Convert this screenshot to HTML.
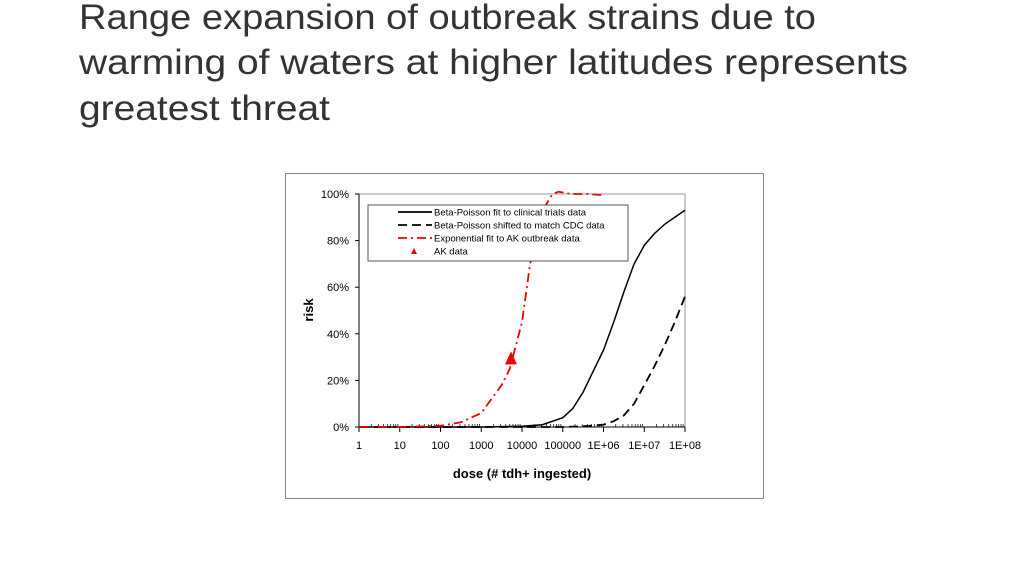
<!DOCTYPE html>
<html><head><meta charset="utf-8"><style>
html,body{margin:0;padding:0;background:#fff;width:1024px;height:576px;overflow:hidden}
svg{display:block;font-family:"Liberation Sans",sans-serif}
</style></head><body>
<svg id="s" width="1024" height="576" viewBox="0 0 1024 576">
<g fill="#333" font-size="35">
<text x="79" y="29" textLength="737" lengthAdjust="spacingAndGlyphs">Range expansion of outbreak strains due to</text>
<text x="79" y="74" textLength="829" lengthAdjust="spacingAndGlyphs">warming of waters at higher latitudes represents</text>
<text x="79" y="120" textLength="251" lengthAdjust="spacingAndGlyphs">greatest threat</text>
</g>
<rect x="285.5" y="173.5" width="478" height="325" fill="#fff" stroke="#888" stroke-width="1"/>
<g id="chart"></g>
</svg>
<script>
const xTicks=["1","10","100","1000","10000","100000","1E+06","1E+07","1E+08"];
const yTicks=[0,0.2,0.4,0.6,0.8,1.0];
const redLogDose=[0,1,2,2.5,3,3.5,3.7,4,4.2,4.5,4.75,4.9,5.2,5.6,6];
const redRisk=[0,0,0.005,0.02,0.06,0.18,0.25,0.45,0.7,0.93,1.0,1.01,1.0,1.0,0.995];
const solidLogDose=[0,3,4,4.5,5,5.25,5.5,5.75,6,6.25,6.5,6.75,7,7.25,7.5,7.75,8];
const solidRisk=[0,0,0.003,0.01,0.04,0.08,0.15,0.24,0.33,0.45,0.58,0.7,0.78,0.83,0.87,0.9,0.93];
const dashLogDose=[0,5,5.5,6,6.25,6.5,6.75,7,7.25,7.5,7.75,8];
const dashRisk=[0,0,0.003,0.01,0.025,0.05,0.1,0.18,0.26,0.35,0.45,0.56];
const akLogDose=[3.73];
const akRisk=[0.29];
const X0=359,X1=685,Y0=427,Y1=194;
const sx=v=>X0+(v/8)*(X1-X0);
const sy=v=>Y0-v*(Y0-Y1);
const NS="http://www.w3.org/2000/svg";
const g=document.getElementById('chart');
function mk(t,a){const e=document.createElementNS(NS,t);for(const k in a)e.setAttribute(k,a[k]);g.appendChild(e);return e;}
let e=mk('rect',{x:X0,y:Y1,width:X1-X0,height:Y0-Y1,fill:'none',stroke:'#999','stroke-width':1});


e=mk('line',{x1:X0,y1:Y1,x2:X0,y2:Y0,stroke:'#000','stroke-width':1});


e=mk('line',{x1:X0,y1:Y0,x2:X1,y2:Y0,stroke:'#000','stroke-width':1});


yTicks.forEach(v=>{
 let t=mk('line',{x1:X0-4,x2:X0,y1:sy(v),y2:sy(v),stroke:'#000'});
 
 
 t=mk('text',{x:X0-10,y:sy(v)+4,'font-size':11,'text-anchor':'end',fill:'#000'});
 t.textContent=Math.round(v*100)+'%';
 
 
});
xTicks.forEach((l,i)=>{
 let t=mk('line',{x1:sx(i),x2:sx(i),y1:Y0,y2:Y0+5,stroke:'#000'});
 
 
 if(i<8)for(let m=2;m<10;m++){const xm=sx(i+Math.log10(m));let mt=mk('line',{x1:xm,x2:xm,y1:Y0-3,y2:Y0,stroke:'#000','stroke-width':0.7});
 
 }
 t=mk('text',{x:sx(i),y:Y0+22,'font-size':11,'text-anchor':'middle',fill:'#000'});
 t.textContent=l;
 
 
});
function path(xs,ys){return xs.map((x,i)=>(i?'L':'M')+sx(x).toFixed(1)+','+sy(ys[i]).toFixed(1)).join(' ');}
e=mk('path',{d:path(solidLogDose,solidRisk),fill:'none',stroke:'#000','stroke-width':1.5});


e=mk('path',{d:path(dashLogDose,dashRisk),fill:'none',stroke:'#000','stroke-width':1.8,'stroke-dasharray':'9,5'});


e=mk('path',{d:path(redLogDose,redRisk),fill:'none',stroke:'#e00','stroke-width':1.8,'stroke-dasharray':'9,4,2,4'});


akLogDose.forEach((d,i)=>{const x=sx(d),y=sy(akRisk[i]);
 let p=mk('polygon',{points:`${x},${y-8} ${x-6},${y+5} ${x+6},${y+5}`,fill:'#e00'});
 
 
});
e=mk('rect',{x:368,y:205,width:260,height:56,fill:'#fff',stroke:'#555','stroke-width':1});


const leg=[['Beta-Poisson fit to clinical trials data','#000',''],['Beta-Poisson shifted to match CDC data','#000','9,5'],['Exponential fit to AK outbreak data','#e00','9,4,2,4'],['AK data','#e00','tri']];
leg.forEach((l,i)=>{const y=212+i*13;
 if(l[2]==='tri'){let p=mk('polygon',{points:`414,${y-3} 411,${y+3} 417,${y+3}`,fill:'#e00'});}
 else{let ln=mk('line',{x1:398,x2:432,y1:y,y2:y,stroke:l[1],'stroke-width':1.8,'stroke-dasharray':l[2]});}
 let t=mk('text',{x:434,y:y+3.5,'font-size':9.5,fill:'#000'});
 t.textContent=l[0];
 
 
});
e=mk('text',{x:522,y:478,'font-size':13,'font-weight':'bold','text-anchor':'middle',fill:'#000'});
e.textContent='dose (# tdh+ ingested)';


e=mk('text',{x:0,y:0,'font-size':13,'font-weight':'bold','text-anchor':'middle',fill:'#000',transform:'translate(313,310) rotate(-90)'});
e.textContent='risk';


</script>
</body></html>
